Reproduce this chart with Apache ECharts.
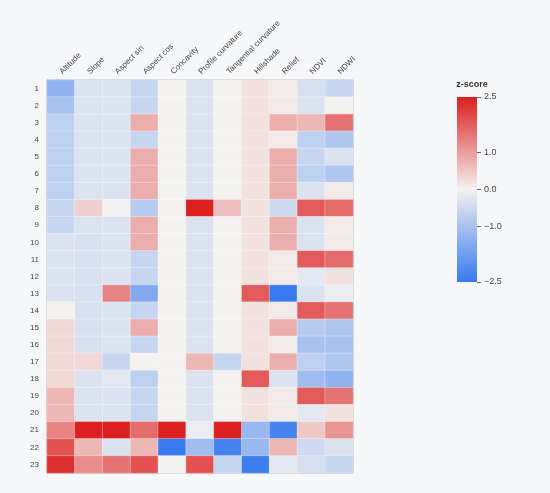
<!DOCTYPE html>
<html>
<head>
<meta charset="utf-8">
<title>z-score heatmap</title>
<script src="https://cdn.jsdelivr.net/npm/echarts@6/dist/echarts.min.js"></script>
<style>
  html, body { margin: 0; padding: 0; background: #f6f7f9; }
  #chart { width: 550px; height: 493px; }
</style>
</head>
<body>
<div id="chart"></div>
<script>
const variables = ['Altitude', 'Slope', 'Aspect sin', 'Aspect cos', 'Concavity', 'Profile curvature',
    'Tangential curvature', 'Hillshade', 'Relief', 'NDVI', 'NDWI'];
const clusters = ['1', '2', '3', '4', '5', '6', '7', '8', '9', '10', '11', '12',
    '13', '14', '15', '16', '17', '18', '19', '20', '21', '22', '23'];
const colorTicks = [-2.5, -1.0, 0.0, 1.0, 2.5];

// one array per variable, rows 1..23
const altitude   = [-1.3, -1.0, -0.7, -0.7, -0.7, -0.7, -0.7, -0.6, -0.6, -0.3, -0.3, -0.3, -0.3, 0.0, 0.3, 0.3, 0.3, 0.3, 0.7, 0.7, 1.3, 1.9, 2.3];
const slope      = [-0.3, -0.3, -0.3, -0.3, -0.3, -0.3, -0.3, 0.4, -0.3, -0.35, -0.35, -0.35, -0.35, -0.35, -0.35, -0.35, 0.3, -0.3, -0.3, -0.3, 2.5, 0.7, 1.2];
const aspectSin  = [-0.3, -0.3, -0.3, -0.3, -0.3, -0.3, -0.3, 0.0, -0.3, -0.3, -0.3, -0.3, 1.3, -0.3, -0.3, -0.3, -0.6, -0.2, -0.3, -0.3, 2.5, -0.3, 1.5];
const aspectCos  = [-0.6, -0.6, 0.8, -0.6, 0.8, 0.8, 0.8, -0.8, 0.8, 0.8, -0.6, -0.6, -1.5, -0.6, 0.8, -0.6, 0.0, -0.7, -0.6, -0.6, 1.6, 0.7, 1.9];
const concavity  = [0.0, 0.0, 0.0, 0.0, 0.0, 0.0, 0.0, 0.0, 0.0, 0.0, 0.0, 0.0, 0.0, 0.0, 0.0, 0.0, 0.0, 0.0, 0.0, 0.0, 2.5, -2.5, 0.0];
const profCurv   = [-0.3, -0.3, -0.3, -0.3, -0.3, -0.3, -0.3, 2.5, -0.3, -0.3, -0.3, -0.3, -0.3, -0.3, -0.3, -0.3, 0.7, -0.3, -0.3, -0.3, -0.1, -1.1, 1.9];
const tangCurv   = [0.0, 0.0, 0.0, 0.0, 0.0, 0.0, 0.0, 0.6, 0.0, 0.0, 0.0, 0.0, 0.0, 0.0, 0.0, 0.0, -0.6, 0.0, 0.0, 0.0, 2.5, -2.3, -0.6];
const hillshade  = [0.2, 0.2, 0.2, 0.2, 0.2, 0.2, 0.2, 0.2, 0.2, 0.2, 0.2, 0.2, 1.8, 0.2, 0.2, 0.2, 0.2, 1.8, 0.2, 0.2, -1.2, -1.2, -2.4];
const relief     = [0.1, 0.1, 0.8, 0.1, 0.8, 0.8, 0.8, -0.5, 0.8, 0.8, 0.1, 0.1, -2.5, 0.1, 0.8, 0.1, 0.8, -0.3, 0.1, 0.1, -2.3, 0.7, -0.2];
const ndvi       = [-0.4, -0.3, 0.7, -0.7, -0.6, -0.7, -0.3, 1.8, -0.3, -0.3, 1.8, -0.2, -0.3, 1.8, -0.8, -1.0, -0.7, -1.1, 1.8, -0.2, 0.5, -0.5, -0.4];
const ndwi       = [-0.6, 0.0, 1.5, -0.9, -0.3, -0.9, 0.1, 1.6, 0.1, 0.1, 1.6, 0.2, -0.1, 1.5, -0.9, -1.0, -0.9, -1.3, 1.5, 0.2, 1.1, -0.3, -0.6];

const columns = [altitude, slope, aspectSin, aspectCos, concavity, profCurv, tangCurv, hillshade, relief, ndvi, ndwi];

const BLUE = '#3779ee';
const MID = '#f3f2f0';
const RED = '#dc1f1f';

// [x, y, value] for the heatmap
const cells = [];
columns.forEach((col, i) => {
    col.forEach((v, j) => {
        cells.push([i, j, v]);
    });
});

const fmt = v => {
    const s = Math.abs(v).toFixed(1);
    return v < 0 ? '\u2212' + s : s;
};

const chart = echarts.init(document.getElementById('chart'));

const option = {
    backgroundColor: '#f6f7f9',
    animation: false,
    textStyle: {fontFamily: 'Liberation Sans, Arial, sans-serif'},
    title: {
        text: 'z-score',
        left: 467,
        top: 75,
        textAlign: 'center',
        textStyle: {fontSize: 9, fontWeight: 'bold', color: '#333'}
    },
    grid: [
        {left: 47, top: 80, width: 306, height: 393, show: true, borderColor: '#999', borderWidth: 1},
        {left: 457, top: 97, width: 20, height: 185}
    ],
    xAxis: [
        {
            type: 'category',
            gridIndex: 0,
            position: 'top',
            data: variables,
            axisLine: {show: true, lineStyle: {color: '#999'}},
            axisTick: {show: false},
            axisLabel: {rotate: -45, interval: 0, fontSize: 8, color: '#444', margin: 7},
            splitLine: {show: false}
        },
        {
            type: 'category',
            gridIndex: 1,
            data: ['z'],
            show: false
        }
    ],
    yAxis: [
        {
            type: 'category',
            gridIndex: 0,
            inverse: true,
            data: clusters,
            axisLine: {show: true, lineStyle: {color: '#999'}},
            axisTick: {show: false},
            axisLabel: {fontSize: 8, color: '#444', margin: 8},
            splitLine: {show: false}
        },
        {
            type: 'value',
            gridIndex: 1,
            position: 'right',
            min: -2.5,
            max: 2.5,
            axisLine: {show: false},
            axisTick: {show: true, length: 4, lineStyle: {color: '#666'}, customValues: colorTicks},
            axisLabel: {fontSize: 9, color: '#444', margin: 7, customValues: colorTicks, formatter: fmt},
            splitLine: {show: false}
        }
    ],
    visualMap: {
        type: 'continuous',
        show: false,
        min: -2.5,
        max: 2.5,
        seriesIndex: 0,
        inRange: {color: [BLUE, MID, RED]}
    },
    series: [
        {
            type: 'heatmap',
            xAxisIndex: 0,
            yAxisIndex: 0,
            data: cells,
            itemStyle: {borderColor: 'rgba(255,255,255,0.55)', borderWidth: 0.6}
        },
        // colour bar: two stacked bars on the value axis
        {
            type: 'bar',
            xAxisIndex: 1,
            yAxisIndex: 1,
            stack: 'cb',
            barWidth: '100%',
            data: [2.5],
            itemStyle: {
                color: new echarts.graphic.LinearGradient(0, 0, 0, 1, [
                    {offset: 0, color: RED}, {offset: 1, color: MID}
                ])
            }
        },
        {
            type: 'bar',
            xAxisIndex: 1,
            yAxisIndex: 1,
            stack: 'cb',
            barWidth: '100%',
            data: [-2.5],
            itemStyle: {
                color: new echarts.graphic.LinearGradient(0, 0, 0, 1, [
                    {offset: 0, color: MID}, {offset: 1, color: BLUE}
                ])
            }
        }
    ]
};

chart.setOption(option);
</script>
</body>
</html>
